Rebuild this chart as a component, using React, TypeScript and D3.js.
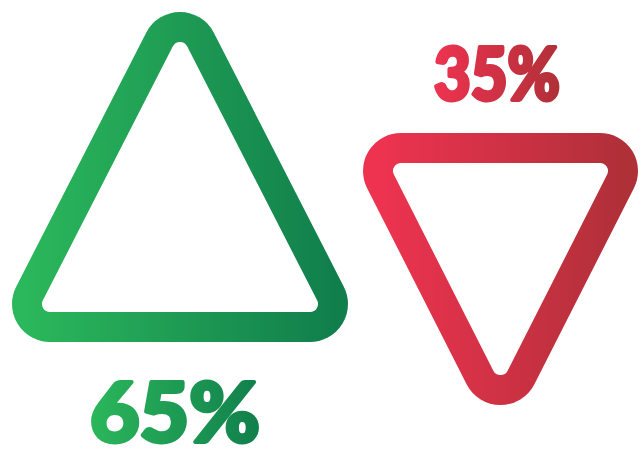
import React from "react";
import * as d3 from "d3";

const labels = ["65%", "35%"];
const values = [65, 35];
const directions = ["up", "down"];
const colorStart = ["#2bb75b", "#ee3350"];
const colorEnd = ["#117f4c", "#b03038"];

const W = 642;
const H = 452;

type Pt = [number, number];

function roundedTri(c: Pt[], R: number): string {
  const n = c.length;
  const cx = d3.mean(c, (d) => d[0]) as number;
  const cy = d3.mean(c, (d) => d[1]) as number;
  const normals: Pt[] = [];
  for (let i = 0; i < n; i++) {
    const a = c[i];
    const b = c[(i + 1) % n];
    const dx = b[0] - a[0];
    const dy = b[1] - a[1];
    const len = Math.hypot(dx, dy);
    let nx = dy / len;
    let ny = -dx / len;
    const mx = (a[0] + b[0]) / 2 - cx;
    const my = (a[1] + b[1]) / 2 - cy;
    if (nx * mx + ny * my < 0) {
      nx = -nx;
      ny = -ny;
    }
    normals.push([nx, ny]);
  }
  const p = d3.path();
  p.moveTo(c[0][0] + R * normals[0][0], c[0][1] + R * normals[0][1]);
  for (let i = 0; i < n; i++) {
    const b = c[(i + 1) % n];
    const nI = normals[i];
    const nJ = normals[(i + 1) % n];
    p.lineTo(b[0] + R * nI[0], b[1] + R * nI[1]);
    p.arc(b[0], b[1], R, Math.atan2(nI[1], nI[0]), Math.atan2(nJ[1], nJ[0]), false);
  }
  p.closePath();
  return p.toString();
}

export default function App() {
  const widthScale = d3.scaleLinear().domain([35, 65]).range([199, 260]);
  const centersX = [180, 500.5];
  const centersY = [177, 269];
  const R = 23;
  const stroke = 30;

  const labelX = [175, 497];
  const labelY = [442, 100];
  const fontSizes = [82, 72];
  const textLengths = [170, 126];

  return (
    <svg
      width={W}
      height={H}
      style={{ position: "absolute", left: 0, top: 0, background: "#fff" }}
    >
      <defs>
        {values.map((v, i) => (
          <linearGradient key={i} id={`g${i}`} x1="0" x2="1" y1="0" y2="0">
            <stop offset="0%" stopColor={colorStart[i]} />
            <stop offset="100%" stopColor={colorEnd[i]} />
          </linearGradient>
        ))}
      </defs>
      {values.map((v, i) => {
        const w = widthScale(v);
        const h = w * (i === 0 ? 0.977 : 0.985);
        const x0 = centersX[i] - w / 2;
        const x1 = centersX[i] + w / 2;
        const y0 = centersY[i] - h / 2;
        const y1 = centersY[i] + h / 2;
        const pts: Pt[] =
          directions[i] === "up"
            ? [
                [x0, y1],
                [centersX[i], y0],
                [x1, y1],
              ]
            : [
                [x0, y0],
                [x1, y0],
                [centersX[i], y1],
              ];
        return (
          <g key={i}>
            <path
              d={roundedTri(pts, R)}
              fill="none"
              stroke={`url(#g${i})`}
              strokeWidth={stroke}
            />
            <text
              x={labelX[i]}
              y={labelY[i]}
              textAnchor="middle"
              fontFamily="Lato, 'Open Sans', sans-serif"
              fontWeight={900}
              fontSize={fontSizes[i]}
              textLength={textLengths[i]}
              lengthAdjust="spacingAndGlyphs"
              fill={`url(#g${i})`}
              stroke={`url(#g${i})`}
              strokeWidth={4}
              strokeLinejoin="round"
            >
              {labels[i]}
            </text>
          </g>
        );
      })}
    </svg>
  );
}
